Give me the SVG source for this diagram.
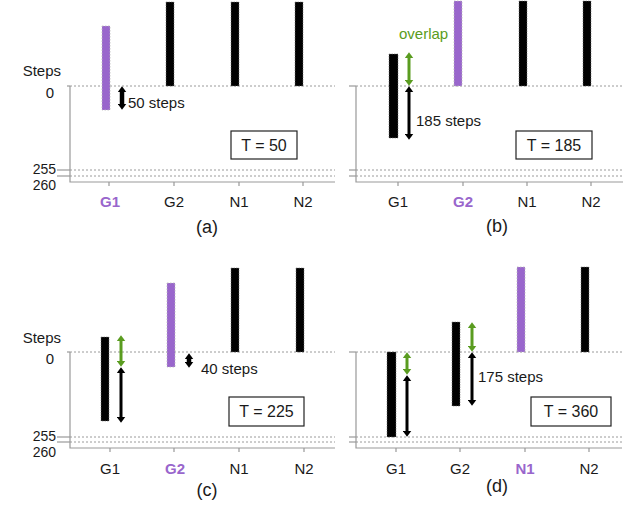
<svg xmlns="http://www.w3.org/2000/svg" width="640" height="525" viewBox="0 0 640 525">
<defs>
<marker id="hk" markerUnits="userSpaceOnUse" viewBox="0 0 6 9" refX="0.3" refY="4.5" markerWidth="6" markerHeight="9" orient="auto-start-reverse"><path d="M0,0 L6,4.5 L0,9 z" fill="#000"/></marker>
<marker id="hg" markerUnits="userSpaceOnUse" viewBox="0 0 6 9" refX="0.3" refY="4.5" markerWidth="6" markerHeight="9" orient="auto-start-reverse"><path d="M0,0 L6,4.5 L0,9 z" fill="#5a9c20"/></marker>
</defs>
<style>
text{font-family:"Liberation Sans",Arial,sans-serif;font-size:15px;fill:#1a1a1a}
.ax{stroke:#999;stroke-width:1.2;fill:none}
.dot{stroke:#9a9a9a;stroke-width:1;stroke-dasharray:2 2;fill:none}
.bk{fill:#000;stroke:#777;stroke-width:0.6;stroke-dasharray:1.5 1}
.pu{fill:#9966cc;stroke:#bbb;stroke-width:0.8;stroke-dasharray:1.5 1.5}
.box{fill:#fff;stroke:#222;stroke-width:1.2}
.t{font-size:16px;text-anchor:middle}
.cap{font-size:18px;text-anchor:middle}
.lab{text-anchor:middle}
.end{text-anchor:end}
.num{text-anchor:end;font-size:14px}
.hl{fill:#9966cc;font-weight:bold}
.ab{stroke:#000;stroke-width:3;fill:none;marker-start:url(#hk);marker-end:url(#hk)}
.abt{stroke:#000;stroke-width:4.5;fill:none;marker-start:url(#hk);marker-end:url(#hk)}
.ag{stroke:#5a9c20;stroke-width:3;fill:none;marker-start:url(#hg);marker-end:url(#hg)}
.ov{fill:#5a9c20}
</style>

<!-- Panel (a) -->
<g id="axes-a">
<text x="61" y="76" class="end">Steps</text>
<text x="54" y="98" class="end">0</text>
<text x="56" y="174" class="num">255</text>
<text x="56" y="190" class="num">260</text>
<line class="ax" x1="67" y1="86" x2="70" y2="86"/>
<line class="ax" x1="57" y1="170" x2="70" y2="170"/>
<line class="ax" x1="57" y1="176" x2="70" y2="176"/>
<line class="dot" x1="70" y1="86" x2="335" y2="86"/>
<line class="dot" x1="70" y1="170" x2="335" y2="170"/>
<line class="dot" x1="70" y1="176" x2="335" y2="176"/>
<path class="ax" d="M70,86 V182 H335 M109,182 v4 M174,182 v4 M239,182 v4 M303,182 v4"/>
<text x="110" y="207" class="lab hl">G1</text>
<text x="174" y="207" class="lab">G2</text>
<text x="239" y="207" class="lab">N1</text>
<text x="303" y="207" class="lab">N2</text>
<text x="207" y="233" class="cap">(a)</text>
</g>
<g id="a-G1"><rect class="pu" x="102" y="26" width="8" height="84"/></g>
<g id="a-G2"><rect class="bk" x="166" y="2" width="8" height="84"/></g>
<g id="a-N1"><rect class="bk" x="231" y="2" width="8" height="84"/></g>
<g id="a-N2"><rect class="bk" x="295" y="2" width="8" height="84"/></g>
<g id="a-T"><rect class="box" x="231" y="131" width="66" height="28"/><text x="264" y="151" class="t">T = 50</text></g>
<g id="a-lbl"><text x="128" y="108">50 steps</text></g>

<!-- Panel (b) -->
<g id="axes-b">
<line class="ax" x1="349" y1="86" x2="356" y2="86"/>
<line class="ax" x1="349" y1="170" x2="356" y2="170"/>
<line class="ax" x1="349" y1="176" x2="356" y2="176"/>
<line class="dot" x1="356" y1="86" x2="623" y2="86"/>
<line class="dot" x1="356" y1="170" x2="623" y2="170"/>
<line class="dot" x1="356" y1="176" x2="623" y2="176"/>
<path class="ax" d="M356,86 V182 H623 M398,182 v4 M463,182 v4 M527,182 v4 M591,182 v4"/>
<text x="398" y="207" class="lab">G1</text>
<text x="463" y="207" class="lab hl">G2</text>
<text x="527" y="207" class="lab">N1</text>
<text x="591" y="207" class="lab">N2</text>
<text x="497" y="232" class="cap">(b)</text>
</g>
<g id="b-G1"><rect class="bk" x="389" y="54" width="9" height="84"/></g>
<g id="b-G2"><rect class="pu" x="454" y="1" width="8" height="85"/></g>
<g id="b-N1"><rect class="bk" x="519" y="1" width="8" height="85"/></g>
<g id="b-N2"><rect class="bk" x="583" y="1" width="8" height="85"/></g>
<g id="b-T"><rect class="box" x="516" y="131" width="76" height="28"/><text x="554" y="151" class="t">T = 185</text></g>
<g id="b-lbl"><text x="399" y="39" class="ov">overlap</text><text x="416" y="126">185 steps</text></g>

<!-- Panel (c) -->
<g id="axes-c">
<text x="61" y="343" class="end">Steps</text>
<text x="54" y="364" class="end">0</text>
<text x="56" y="441" class="num">255</text>
<text x="56" y="457" class="num">260</text>
<line class="ax" x1="67" y1="352" x2="70" y2="352"/>
<line class="ax" x1="57" y1="437" x2="70" y2="437"/>
<line class="ax" x1="57" y1="442" x2="70" y2="442"/>
<line class="dot" x1="70" y1="352" x2="335" y2="352"/>
<line class="dot" x1="70" y1="437" x2="335" y2="437"/>
<line class="dot" x1="70" y1="442" x2="335" y2="442"/>
<path class="ax" d="M70,352 V448 H335 M110,448 v4 M174,448 v4 M239,448 v4 M304,448 v4"/>
<text x="110" y="474" class="lab">G1</text>
<text x="175" y="474" class="lab hl">G2</text>
<text x="239" y="474" class="lab">N1</text>
<text x="304" y="474" class="lab">N2</text>
<text x="207" y="496" class="cap">(c)</text>
</g>
<g id="c-G1"><rect class="bk" x="101" y="337" width="8" height="84"/></g>
<g id="c-G2"><rect class="pu" x="167" y="283" width="8" height="84"/></g>
<g id="c-N1"><rect class="bk" x="231" y="268" width="8" height="84"/></g>
<g id="c-N2"><rect class="bk" x="296" y="268" width="8" height="84"/></g>
<g id="c-T"><rect class="box" x="229" y="397" width="75" height="29"/><text x="266.5" y="417" class="t">T = 225</text></g>
<g id="c-lbl"><text x="201" y="374">40 steps</text></g>

<!-- Panel (d) -->
<g id="axes-d">
<line class="ax" x1="349" y1="352" x2="356" y2="352"/>
<line class="ax" x1="349" y1="437" x2="356" y2="437"/>
<line class="ax" x1="349" y1="442" x2="356" y2="442"/>
<line class="dot" x1="356" y1="352" x2="622" y2="352"/>
<line class="dot" x1="356" y1="437" x2="622" y2="437"/>
<line class="dot" x1="356" y1="442" x2="622" y2="442"/>
<path class="ax" d="M356,352 V448 H622 M396,448 v4 M460,448 v4 M525,448 v4 M589,448 v4"/>
<text x="396" y="474" class="lab">G1</text>
<text x="460" y="474" class="lab">G2</text>
<text x="525" y="474" class="lab hl">N1</text>
<text x="589" y="474" class="lab">N2</text>
<text x="497" y="492" class="cap">(d)</text>
</g>
<g id="d-G1"><rect class="bk" x="387" y="352" width="9" height="85"/></g>
<g id="d-G2"><rect class="bk" x="452" y="322" width="8" height="84"/></g>
<g id="d-N1"><rect class="pu" x="517" y="267" width="8" height="85"/></g>
<g id="d-N2"><rect class="bk" x="581" y="267" width="8" height="85"/></g>
<g id="d-T"><rect class="box" x="531" y="397" width="80" height="29"/><text x="571" y="417" class="t">T = 360</text></g>
<g id="d-lbl"><text x="478" y="382">175 steps</text></g>

<g id="connectors">
<line class="abt" x1="122" y1="92" x2="122" y2="104"/>
<line class="ag" x1="409" y1="58" x2="409" y2="80"/>
<line class="ab" x1="409" y1="92" x2="409" y2="134"/>
<line class="ag" x1="121" y1="341" x2="121" y2="361"/>
<line class="ab" x1="121" y1="373" x2="121" y2="417"/>
<line class="abt" x1="189" y1="359" x2="189" y2="362"/>
<line class="ag" x1="407" y1="358" x2="407" y2="369"/>
<line class="ab" x1="407" y1="381" x2="407" y2="431"/>
<line class="ag" x1="472" y1="328" x2="472" y2="346"/>
<line class="ab" x1="472" y1="358" x2="472" y2="400"/>
</g>
</svg>
